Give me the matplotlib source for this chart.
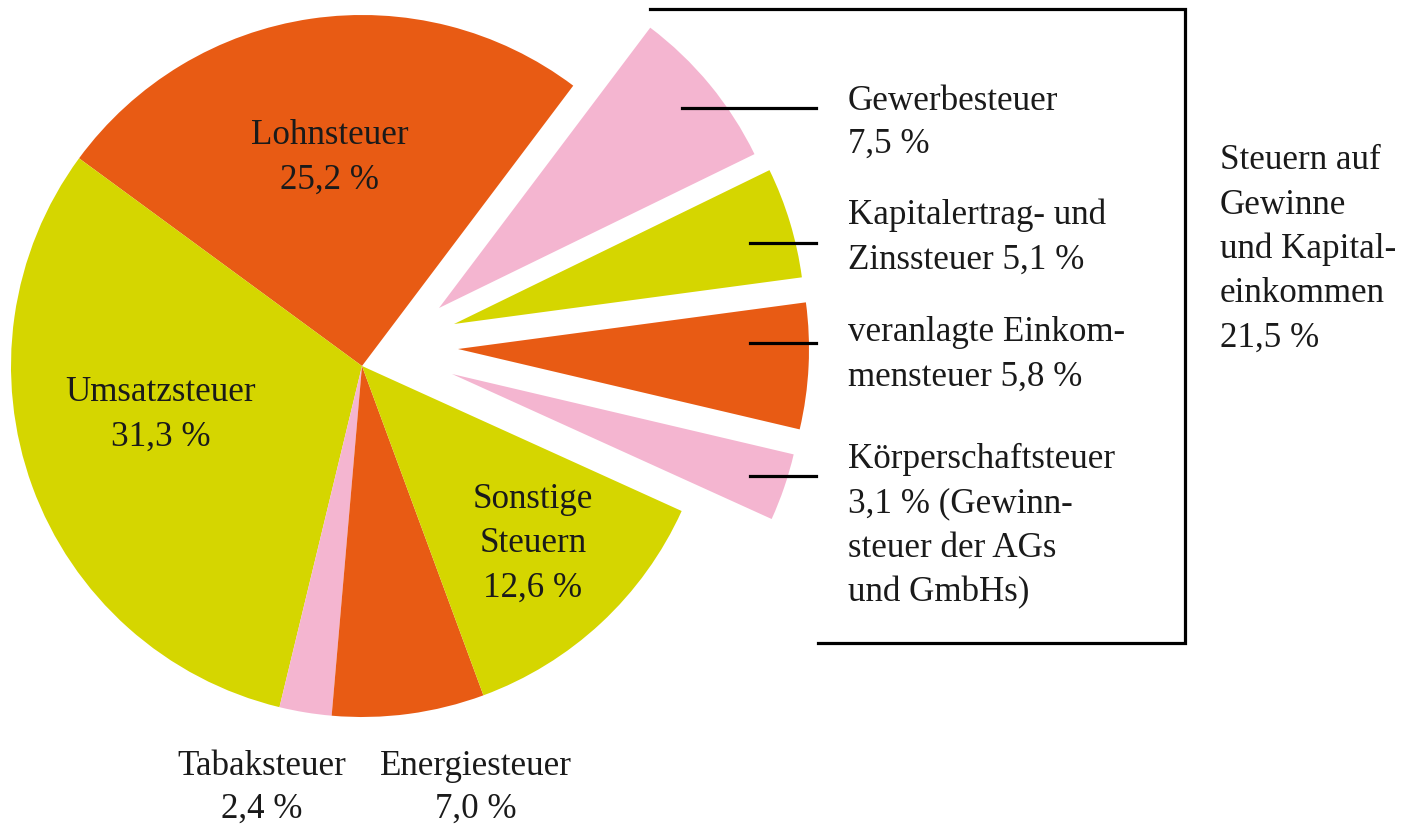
import matplotlib.pyplot as plt

plt.rcParams["font.family"] = ["Liberation Serif", "DejaVu Serif"]

# Anteile am Steueraufkommen (%)
labels = [
    "Lohnsteuer",
    "Umsatzsteuer",
    "Tabaksteuer",
    "Energiesteuer",
    "Sonstige Steuern",
    "Körperschaftsteuer",
    "veranlagte Einkommensteuer",
    "Kapitalertrag- und Zinssteuer",
    "Gewerbesteuer",
]
shares = [25.2, 31.3, 2.4, 7.0, 12.6, 3.1, 5.8, 5.1, 7.5]
colors = ["#E85B14", "#D5D600", "#F4B5D0", "#E85B14", "#D5D600",
          "#F4B5D0", "#E85B14", "#D5D600", "#F4B5D0"]

# Gewinn- und Kapitalsteuern werden herausgezogen (Pixel-Versatz)
shift = {
    5: (90, -8),
    6: (96, 17),
    7: (92, 42),
    8: (77, 58),
}

W, H = 1409, 825
FS = 25.2


def pct(v):
    return f"{v:.1f}".replace(".", ",") + " %"


fig = plt.figure(figsize=(W / 100, H / 100), dpi=100)
ax = fig.add_axes([0, 0, 1, 1])

cx, cy, r = 362, H - 366, 351
wedges, _ = ax.pie(
    shares,
    colors=colors,
    startangle=53,
    radius=r,
    center=(cx, cy),
    wedgeprops=dict(linewidth=0),
)
for i, (dx, dy) in shift.items():
    wedges[i].set_center((cx + dx, cy + dy))

ax.set_xlim(0, W)
ax.set_ylim(0, H)
ax.set_aspect("auto")
ax.axis("off")


def put(lines, x, y0, ha="left", step=44.5):
    for k, line in enumerate(lines):
        ax.text(x, H - (y0 + k * step), line, ha=ha, va="baseline",
                fontsize=FS, color="#1a1a1a")


# Beschriftung im Kreis
put([labels[0], pct(shares[0])], 330, 144, ha="center")
put([labels[1], pct(shares[1])], 161, 401, ha="center")
put(["Sonstige", "Steuern", pct(shares[4])], 533, 508, ha="center")
put([labels[2], pct(shares[2])], 262, 775, ha="center", step=43)
put([labels[3], pct(shares[3])], 476, 775, ha="center", step=43)

# Beschriftung rechts
put([labels[8], pct(shares[8])], 848, 110, step=43)
put(["Kapitalertrag- und", "Zinssteuer " + pct(shares[7])], 848, 224)
put(["veranlagte Einkom-", "mensteuer " + pct(shares[6])], 848, 341)
put([labels[5], pct(shares[5]) + " (Gewinn-", "steuer der AGs", "und GmbHs)"],
    848, 468)

total = sum(shares[5:])
put(["Steuern auf", "Gewinne", "und Kapital-", "einkommen", pct(total)],
    1220, 169, step=44.5)

# Klammer und Hinweislinien
lw = 2.3
ax.plot([650, 1185, 1185, 818], [H - 9, H - 9, H - 643, H - 643],
        color="black", lw=lw, solid_joinstyle="miter")
for x0, y in [(682, 108), (750, 243), (750, 343), (750, 476)]:
    ax.plot([x0, 816], [H - y, H - y], color="black", lw=lw)

fig.savefig("out.png", dpi=100)
